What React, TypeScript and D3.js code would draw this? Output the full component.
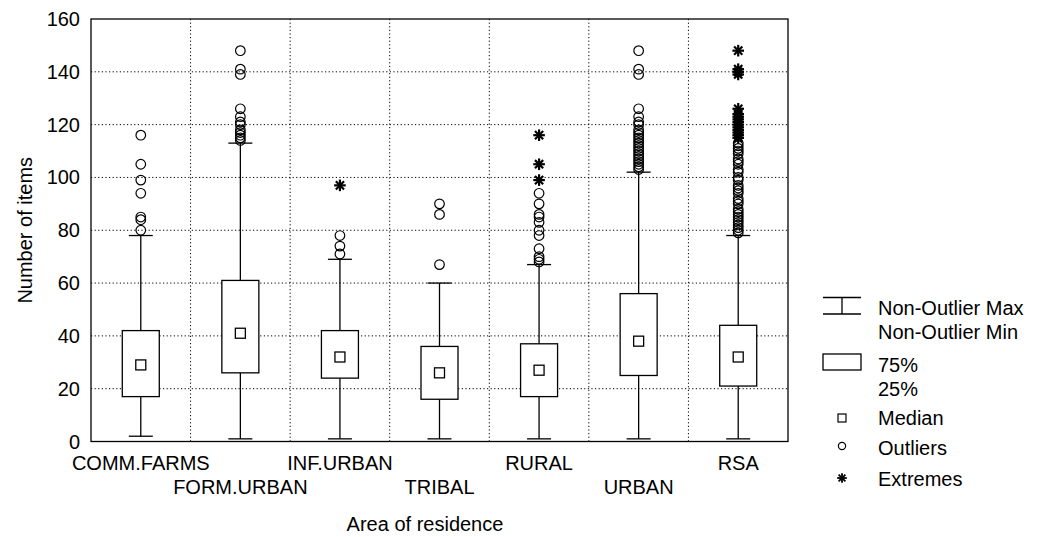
import React from "react";
import * as d3 from "d3";

const categories = ["COMM.FARMS", "FORM.URBAN", "INF.URBAN", "TRIBAL", "RURAL", "URBAN", "RSA"];
const minValues = [2, 1, 1, 1, 1, 1, 1];
const q1Values = [17, 26, 24, 16, 17, 25, 21];
const medianValues = [29, 41, 32, 26, 27, 38, 32];
const q3Values = [42, 61, 42, 36, 37, 56, 44];
const maxValues = [78, 113, 69, 60, 67, 102, 78];
const outlierValues: number[][] = [
  [80, 84, 85, 94, 99, 105, 116],
  [114, 115, 116, 117, 118, 120, 121, 123, 126, 139, 141, 148],
  [71, 74, 78],
  [67, 86, 90],
  [68, 69, 70, 73, 78, 80, 83, 85, 86, 90, 94],
  [103, 104, 105, 106, 107, 108, 109, 110, 111, 112, 113, 114, 115, 116, 117, 118, 120, 121, 123, 126, 139, 141, 148],
  [79, 80, 81, 82, 83, 84, 85, 86, 87, 88, 90, 91, 92, 94, 95, 96, 97, 99, 100, 102, 103, 105, 106, 107, 109, 110, 111, 112, 113],
];
const extremeValues: number[][] = [
  [],
  [],
  [97],
  [],
  [99, 105, 116],
  [],
  [115, 116, 117, 118, 119, 120, 121, 122, 123, 124, 126, 139, 140, 141, 148],
];
const yTicks = [0, 20, 40, 60, 80, 100, 120, 140, 160];
const legendItems = ["Non-Outlier Max", "Non-Outlier Min", "75%", "25%", "Median", "Outliers", "Extremes"];

const W = 1042;
const H = 537;
const FONT = "'Liberation Sans', Arial, sans-serif";
const FS = 20;

function Star({ cx, cy, r, sw }: { cx: number; cy: number; r: number; sw: number }) {
  const angles = [0, 45, 90, 135];
  return (
    <g>
      {angles.map((a) => {
        const rad = (a * Math.PI) / 180;
        const dx = Math.cos(rad) * r;
        const dy = Math.sin(rad) * r;
        return <line key={a} x1={cx - dx} y1={cy - dy} x2={cx + dx} y2={cy + dy} stroke="#000" strokeWidth={sw} />;
      })}
    </g>
  );
}

export default function App() {
  const left = 91;
  const right = 788;
  const top = 19;
  const bottom = 441.5;
  const x = d3.scaleBand<string>().domain(categories).range([left, right]).padding(0);
  const y = d3.scaleLinear().domain([0, 160]).range([bottom, top]);
  const bw = x.bandwidth();
  const boxW = 37;
  const capW = 24;
  const medS = 10;

  return (
    <svg width={W} height={H} style={{ position: "absolute", left: 0, top: 0, background: "#fff" }} fontFamily={FONT}>
      <rect x={0} y={0} width={W} height={H} fill="#fff" />
      {/* grid */}
      {yTicks.slice(1, -1).map((t) => (
        <line key={"h" + t} x1={left} x2={right} y1={y(t)} y2={y(t)} stroke="#000" strokeWidth={1} strokeDasharray="1.2,2.4" />
      ))}
      {categories.slice(1).map((c) => (
        <line key={"v" + c} x1={x(c)!} x2={x(c)!} y1={top} y2={bottom} stroke="#000" strokeWidth={1} strokeDasharray="1.2,2.4" />
      ))}
      {/* boxes */}
      {categories.map((c, i) => {
        const cx = x(c)! + bw / 2;
        return (
          <g key={c}>
            <line x1={cx} x2={cx} y1={y(maxValues[i])} y2={y(q3Values[i])} stroke="#000" strokeWidth={1.3} />
            <line x1={cx} x2={cx} y1={y(q1Values[i])} y2={y(minValues[i])} stroke="#000" strokeWidth={1.3} />
            <line x1={cx - capW / 2} x2={cx + capW / 2} y1={y(maxValues[i])} y2={y(maxValues[i])} stroke="#000" strokeWidth={1.3} />
            <line x1={cx - capW / 2} x2={cx + capW / 2} y1={y(minValues[i])} y2={y(minValues[i])} stroke="#000" strokeWidth={1.3} />
            <rect x={cx - boxW / 2} y={y(q3Values[i])} width={boxW} height={y(q1Values[i]) - y(q3Values[i])} fill="#fff" stroke="#000" strokeWidth={1.3} />
            <rect x={cx - medS / 2} y={y(medianValues[i]) - medS / 2} width={medS} height={medS} fill="#fff" stroke="#000" strokeWidth={1.3} />
            {outlierValues[i].map((v, j) => (
              <circle key={"o" + j} cx={cx} cy={y(v)} r={4.8} fill="none" stroke="#000" strokeWidth={1.2} />
            ))}
            {extremeValues[i].map((v, j) => (
              <Star key={"e" + j} cx={cx} cy={y(v)} r={5.8} sw={2.2} />
            ))}
          </g>
        );
      })}
      {/* frame */}
      <rect x={left} y={top} width={right - left} height={bottom - top} fill="none" stroke="#000" strokeWidth={1.3} />
      {/* y ticks */}
      {yTicks.map((t) => (
        <text key={"yt" + t} x={80} y={y(t)} dy="0.35em" textAnchor="end" fontSize={FS} fill="#000">
          {t}
        </text>
      ))}
      {/* x labels */}
      {categories.map((c, i) => (
        <text key={"xl" + c} x={x(c)! + bw / 2} y={i % 2 === 0 ? 470 : 494} textAnchor="middle" fontSize={FS} fill="#000">
          {c}
        </text>
      ))}
      <text x={425} y={531} textAnchor="middle" fontSize={FS} fill="#000">Area of residence</text>
      <text transform={`translate(32,${(top + bottom) / 2}) rotate(-90)`} textAnchor="middle" fontSize={FS} fill="#000">Number of items</text>
      {/* legend */}
      <g>
        <line x1={823} x2={861} y1={297.5} y2={297.5} stroke="#000" strokeWidth={1.3} />
        <line x1={823} x2={861} y1={314} y2={314} stroke="#000" strokeWidth={1.3} />
        <line x1={842} x2={842} y1={297.5} y2={314} stroke="#000" strokeWidth={1.3} />
        <rect x={823} y={354} width={38} height={16} fill="#fff" stroke="#000" strokeWidth={1.3} />
        <rect x={838} y={414} width={8} height={8} fill="#fff" stroke="#000" strokeWidth={1.2} />
        <circle cx={842} cy={446} r={3.6} fill="none" stroke="#000" strokeWidth={1.2} />
        <Star cx={842} cy={478} r={4.8} sw={1.8} />
        {[315, 339, 372, 396, 425, 455, 486].map((yy, k) => (
          <text key={"lg" + k} x={878} y={yy} fontSize={FS} fill="#000">{legendItems[k]}</text>
        ))}
      </g>
    </svg>
  );
}
